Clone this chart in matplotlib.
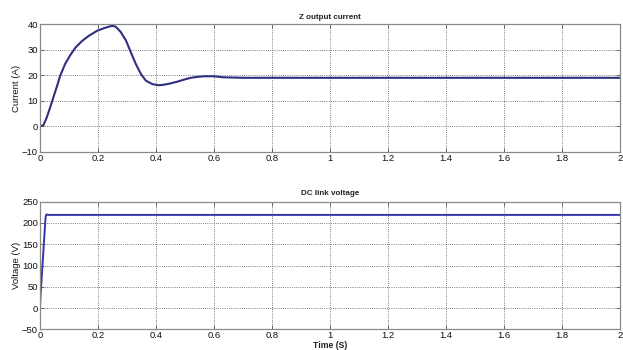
import matplotlib
matplotlib.use("Agg")
import matplotlib.pyplot as plt

plt.rcParams["font.family"] = ["Liberation Sans", "DejaVu Sans"]

# Z output current
t_current = [0, 0.012, 0.023, 0.035, 0.046, 0.058, 0.070, 0.087, 0.104, 0.122, 0.145,
             0.168, 0.197, 0.22, 0.243, 0.252, 0.261, 0.278, 0.296, 0.313, 0.33,
             0.348, 0.365, 0.388, 0.41, 0.428, 0.45, 0.474, 0.5, 0.52, 0.545,
             0.567, 0.6, 0.633, 0.7, 0.76, 1.0, 1.5, 2.0]
current = [0, 0.5, 3.4, 7.4, 11.3, 15.5, 19.9, 24.5, 27.8, 30.8, 33.4,
           35.4, 37.4, 38.4, 39.2, 39.3, 39, 37, 33.7, 29.1, 24.5,
           20.5, 17.9, 16.5, 16.1, 16.3, 16.8, 17.5, 18.4, 19, 19.4,
           19.6, 19.6, 19.2, 19.0, 19.0, 19.0, 19.0, 19.0]

# DC link voltage
t_voltage = [0, 0.002, 0.019, 0.021, 0.024, 0.028, 1.0, 2.0]
voltage = [0, 30, 212, 219, 220, 219, 219, 219]

x_ticks = [0, 0.2, 0.4, 0.6, 0.8, 1, 1.2, 1.4, 1.6, 1.8, 2]
x_labels = ["0", "0.2", "0.4", "0.6", "0.8", "1", "1.2", "1.4", "1.6", "1.8", "2"]
current_ticks = [-10, 0, 10, 20, 30, 40]
voltage_ticks = [-50, 0, 50, 100, 150, 200, 250]

fig = plt.figure(figsize=(6.23, 3.5), dpi=100)
ax1 = fig.add_axes([0.0642, 0.566, 0.9308, 0.365])
ax2 = fig.add_axes([0.0642, 0.059, 0.9308, 0.3647])


def style(ax, yticks):
    ax.set_xlim(0, 2)
    ax.set_ylim(yticks[0], yticks[-1])
    ax.set_xticks(x_ticks)
    ax.set_xticklabels(x_labels)
    ax.set_yticks(yticks)
    ax.tick_params(direction="in", length=3, width=0.6, color="#555555",
                   labelsize=6.8, pad=1.5, labelcolor="#111111",
                   top=True, right=True)
    ax.grid(True, linestyle=(0, (1.0, 1.6)), color="#555555", linewidth=0.6)
    for s in ax.spines.values():
        s.set_color("#8a8a8a")
        s.set_linewidth(0.9)


ax1.plot(t_current, current, color="#2f2f80", linewidth=1.5)
style(ax1, current_ticks)
ax1.set_title("Z output current", fontsize=5.8, fontweight="bold", pad=4,
              color="#222222")
ax1.set_ylabel("Current (A)", fontsize=6.8, labelpad=1, color="#111111")

ax2.plot(t_voltage, voltage, color="#3535a8", linewidth=1.4)
style(ax2, voltage_ticks)
ax2.set_title("DC link voltage", fontsize=5.8, fontweight="bold", pad=5,
              color="#222222")
ax2.set_ylabel("Voltage (V)", fontsize=6.8, labelpad=1, color="#111111")
ax2.set_xlabel("Time (S)", fontsize=6.2, fontweight="bold", labelpad=0.5,
               color="#222222")

fig.savefig("out.png", dpi=100)
